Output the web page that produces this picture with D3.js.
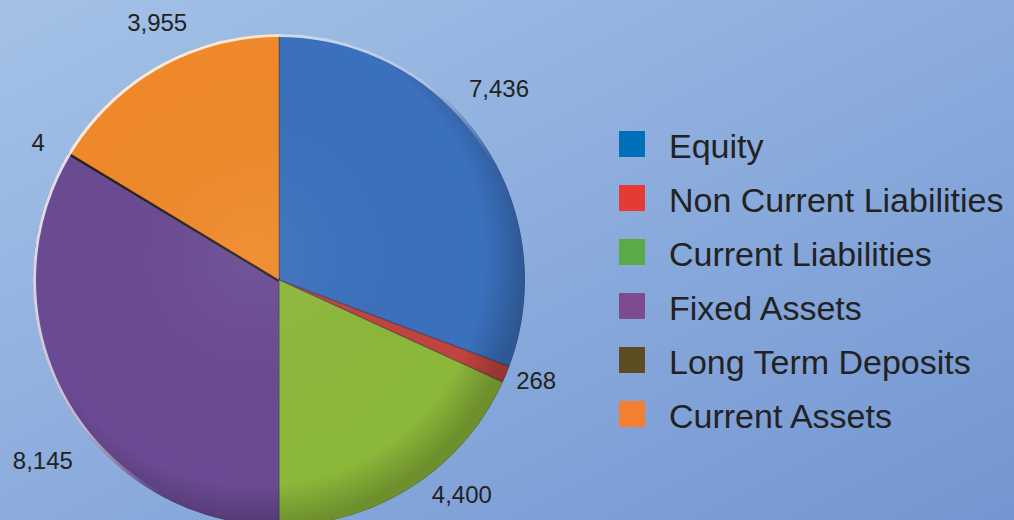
<!DOCTYPE html>
<html>
<head>
<meta charset="utf-8">
<script src="https://cdn.jsdelivr.net/npm/d3@7"></script>
<style>
  html, body { margin: 0; padding: 0; overflow: hidden; }
  svg { display: block; }
</style>
</head>
<body>
<svg id="chart" width="1014" height="520"></svg>
<script>
// ---- data ----
const categories = ["Equity", "Non Current Liabilities", "Current Liabilities", "Fixed Assets", "Long Term Deposits", "Current Assets"];
const values = [7436, 268, 4400, 8145, 4, 3955];
const valueLabels = ["7,436", "268", "4,400", "8,145", "4", "3,955"];
const legendColors = ["#0070b8", "#e53a35", "#5aaa46", "#7e4a90", "#5c4e20", "#f47f30"];
const sliceColors = ["#3b70bd", "#c0443f", "#8cb83a", "#6a4a92", "#2a2218", "#f0892a"];

// ---- layout ----
const W = 1014, H = 520;
const cx = 279, cy = 280, R = 246;
const svg = d3.select("#chart");
const defs = svg.append("defs");

const bg = defs.append("linearGradient").attr("id", "bg")
  .attr("x1", "0%").attr("y1", "0%").attr("x2", "100%").attr("y2", "100%");
bg.append("stop").attr("offset", "0%").attr("stop-color", "#a4c2e7");
bg.append("stop").attr("offset", "100%").attr("stop-color", "#7396d2");
svg.append("rect").attr("width", W).attr("height", H).attr("fill", "url(#bg)");

defs.append("clipPath").attr("id", "pieclip")
  .append("circle").attr("r", R);

// shading overlay for the pie
const shade = defs.append("radialGradient").attr("id", "shade")
  .attr("cx", "45%").attr("cy", "45%").attr("r", "55%");
shade.append("stop").attr("offset", "0%").attr("stop-color", "#fff").attr("stop-opacity", 0.06);
shade.append("stop").attr("offset", "85%").attr("stop-color", "#000").attr("stop-opacity", 0.0);
shade.append("stop").attr("offset", "100%").attr("stop-color", "#000").attr("stop-opacity", 0.22);

const rim = defs.append("linearGradient").attr("id", "rim")
  .attr("x1", "0%").attr("y1", "0%").attr("x2", "100%").attr("y2", "100%");
rim.append("stop").attr("offset", "0%").attr("stop-color", "#fff").attr("stop-opacity", 0.95);
rim.append("stop").attr("offset", "45%").attr("stop-color", "#fff").attr("stop-opacity", 0.6);
rim.append("stop").attr("offset", "60%").attr("stop-color", "#fff").attr("stop-opacity", 0);
rim.append("stop").attr("offset", "100%").attr("stop-color", "#fff").attr("stop-opacity", 0);

const pie = d3.pie().sort(null).value(d => d)(values);
const arc = d3.arc().innerRadius(0).outerRadius(R);

const g = svg.append("g").attr("transform", `translate(${cx},${cy})`);
g.append("g").attr("clip-path", "url(#pieclip)")
  .selectAll("path.slice").data(pie).join("path")
  .attr("class", "slice")
  .attr("d", arc)
  .attr("fill", (d, i) => sliceColors[i])
  .attr("stroke", (d, i) => values[i] < 50 ? sliceColors[i] : "rgba(40,40,70,0.35)")
  .attr("stroke-width", (d, i) => values[i] < 50 ? 4 : (values[i] < 500 ? 1.5 : 1));

g.append("circle").attr("r", R).attr("fill", "url(#shade)");
g.append("circle").attr("r", R - 1.5).attr("fill", "none")
  .attr("stroke", "url(#rim)").attr("stroke-width", 3);

// ---- value labels ----
const labelShiftDeg = [-6.4, -1.3, -7.7, -7.9, -1.5, 4.1];
const labelRadius = [292, 276, 282, 297, 277, 285];
g.selectAll("text.val").data(pie).join("text")
  .attr("class", "val")
  .attr("x", (d, i) => {
    const a = (d.startAngle + d.endAngle) / 2 + labelShiftDeg[i] * Math.PI / 180;
    return labelRadius[i] * Math.sin(a);
  })
  .attr("y", (d, i) => {
    const a = (d.startAngle + d.endAngle) / 2 + labelShiftDeg[i] * Math.PI / 180;
    return -labelRadius[i] * Math.cos(a);
  })
  .attr("text-anchor", "middle")
  .attr("dominant-baseline", "central")
  .attr("font-family", "Liberation Sans, Arial, sans-serif")
  .attr("font-size", 24)
  .attr("fill", "#222")
  .text((d, i) => valueLabels[i]);

// ---- legend ----
const legendY = d3.scaleBand().domain(categories).range([131, 131 + 54 * categories.length]);
const lg = svg.append("g");
const items = lg.selectAll("g").data(categories).join("g")
  .attr("transform", d => `translate(619,${legendY(d)})`);
items.append("rect").attr("width", 26).attr("height", 26)
  .attr("fill", (d, i) => legendColors[i]);
items.append("text").attr("x", 50).attr("y", 27)
  .attr("font-family", "Liberation Sans, Arial, sans-serif")
  .attr("font-size", 34)
  .attr("fill", "#222")
  .text(d => d);
</script>
</body>
</html>
